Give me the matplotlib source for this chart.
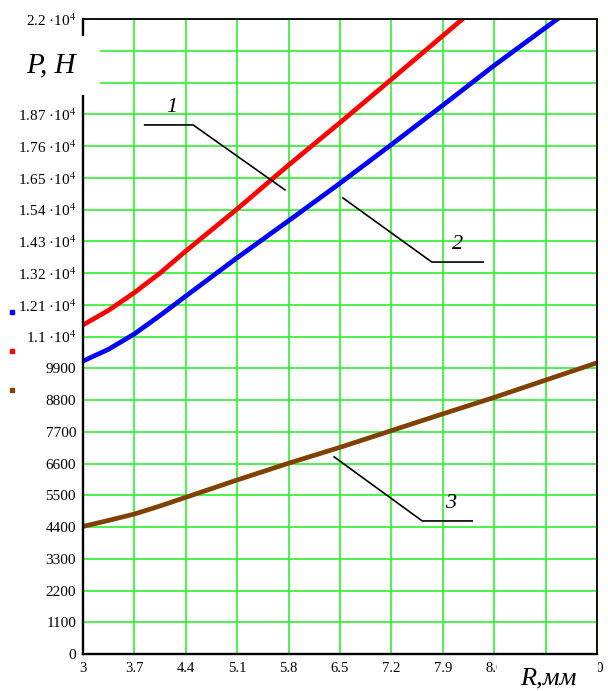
import numpy as np
import matplotlib
matplotlib.use("Agg")
import matplotlib.pyplot as plt
from matplotlib.patches import Rectangle
from matplotlib.lines import Line2D

plt.rcParams['font.family'] = ['Liberation Serif', 'DejaVu Serif']
plt.rcParams['mathtext.fontset'] = 'stix'

# radius, mm
r = np.array([3, 3.35, 3.7, 4.05, 4.4, 5.1, 5.8, 6.5, 7.2, 7.9, 8.6, 9.3, 10])
# force, N
p1 = np.array([11400, 11910, 12520, 13200, 13960, 15420, 16940, 18410, 19910, 21420, 22930, 24440, 25950])
p2 = np.array([10150, 10560, 11090, 11730, 12400, 13730, 15010, 16310, 17650, 19010, 20390, 21700, 23000])
p3 = np.array([4420, 4630, 4850, 5130, 5430, 6030, 6610, 7160, 7740, 8320, 8890, 9490, 10090])

xticks = [3, 3.7, 4.4, 5.1, 5.8, 6.5, 7.2, 7.9, 8.6, 9.3, 10]
xlabels = ['3', '3.7', '4.4', '5.1', '5.8', '6.5', '7.2', '7.9', '8.6', '', '10']
yticks = np.arange(0, 22001, 1100)
# 1.98e4 and 2.09e4 sit under the "P, H" box in the original
ylabels = ['0', '1100', '2200', '3300', '4400', '5500', '6600', '7700', '8800', '9900',
           '1.1 ·10$^{4}$', '1.21 ·10$^{4}$', '1.32 ·10$^{4}$', '1.43 ·10$^{4}$', '1.54 ·10$^{4}$',
           '1.65 ·10$^{4}$', '1.76 ·10$^{4}$', '1.87 ·10$^{4}$', '', '',
           '2.2 ·10$^{4}$']

fig = plt.figure(figsize=(6.08, 6.91), dpi=100)
ax = fig.add_axes([0.1365, 0.0535, 0.8454, 0.919])

ax.plot(r, p1, color='#ff0000', lw=3.4)
ax.plot(r, p2, color='#0000ff', lw=3.4)
ax.plot(r, p3, color='#804000', lw=3.4)

ax.set_xlim(3, 10)
ax.set_ylim(0, 22000)
ax.set_xticks(xticks)
ax.set_xticklabels(xlabels, fontsize=10.5)
ax.set_yticks(yticks)
ax.set_yticklabels(ylabels, fontsize=11)
ax.tick_params(axis='y', length=0, pad=5)
ax.tick_params(axis='x', length=0, pad=6)
ax.grid(True, color='#2ef02e', lw=1.2)
ax.set_axisbelow(True)
for s in ['left', 'bottom']:
    ax.spines[s].set_linewidth(1.7)
for s in ['top', 'right']:
    ax.spines[s].set_linewidth(1.3)

# leader lines with curve numbers
ax.plot([3.84, 4.5, 5.75], [18330, 18330, 16080], color='black', lw=1.2)
ax.text(4.21, 18600, '1', fontsize=16, style='italic', ha='center', va='bottom')
ax.plot([6.54, 7.75, 8.45], [15800, 13580, 13580], color='black', lw=1.2)
ax.text(8.1, 13850, '2', fontsize=16, style='italic', ha='center', va='bottom')
ax.plot([6.42, 7.62, 8.3], [6830, 4610, 4610], color='black', lw=1.2)
ax.text(8.0, 4870, '3', fontsize=16, style='italic', ha='center', va='bottom')

# white boxes under axis titles
fig.patches.append(Rectangle((0, 1 - 95 / 691), 100 / 608, 59 / 691, transform=fig.transFigure,
                             facecolor='white', edgecolor='none', zorder=5))
fig.patches.append(Rectangle((497 / 608, 0), 101 / 608, 30 / 691, transform=fig.transFigure,
                             facecolor='white', edgecolor='none', zorder=5))
fig.text(51 / 608, 1 - 72 / 691, 'P, H', fontsize=21, style='italic', ha='center', va='baseline', zorder=6)
fig.text(548 / 608, 1 - 684 / 691, 'R,мм', fontsize=19, style='italic', ha='center', va='baseline', zorder=6)

# trace markers on the left
for yy, c in [(312, '#0000ff'), (351, '#ff0000'), (390, '#804000')]:
    fig.add_artist(Line2D([12 / 608], [1 - yy / 691], marker='s', ms=3, color=c,
                          transform=fig.transFigure))

fig.savefig('out.png', dpi=100)
